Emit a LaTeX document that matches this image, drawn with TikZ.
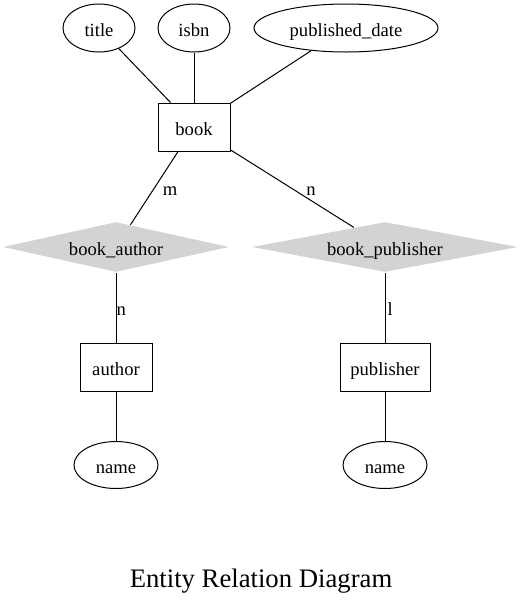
\documentclass[tikz,border=0pt]{standalone}
\usepackage{fontspec}
\setmainfont{Liberation Serif}
\usepackage{tikz}
\usetikzlibrary{shapes.geometric}
\definecolor{relgray}{RGB}{211,211,211}
\tikzstyle{attr} = [draw=black, ellipse, inner sep=0pt, text height=17, text depth=0, minimum width=72, minimum height=48, font={\fontsize{18.6}{22}\selectfont}]
\tikzstyle{entity} = [draw=black, rectangle, inner sep=0pt, text height=17, text depth=0, minimum width=72, minimum height=48, font={\fontsize{18.6}{22}\selectfont}]
\tikzstyle{rel} = [fill=relgray, diamond, aspect=4.5, inner sep=0pt, text height=17, text depth=0, minimum height=50, font={\fontsize{18.6}{22}\selectfont}]
\tikzstyle{card} = [inner sep=0pt, font={\fontsize{18.6}{22}\selectfont}]

\begin{document}
\begin{tikzpicture}[x=1pt,y=-1pt,line width=1pt]
        \useasboundingbox (0,0) rectangle (527,603);
        \node[attr](title) at (99,28){title};
        \node[attr](isbn) at (194,28){isbn};
        \node[attr,minimum width=184](pubdate) at (346,28){published\_date};
        \node[entity](book) at (194,127){book};
        \node[rel,minimum width=226](bookauthor) at (116,247){book\_author};
        \node[rel,minimum width=266](bookpub) at (385,247){book\_publisher};
        \node[entity](author) at (116,367){author};
        \node[entity,minimum width=90](publisher) at (385,367){publisher};
        \node[attr,minimum width=84,minimum height=47](aname) at (116,465){name};
        \node[attr,minimum width=84,minimum height=47](pname) at (385,465){name};
        \node[card,anchor=base](m1) at (170,195){m};
        \node[card,anchor=base](n1) at (311,195){n};
        \node[card,anchor=base west](n2) at (116,315){n};
        \node[card,anchor=base west](l1) at (387,315){l};
        \node[anchor=base,font={\fontsize{26.7}{30}\selectfont}](caption) at (261,587){Entity Relation Diagram};
        \draw(title)--(book);
        \draw(isbn)--(book);
        \draw(pubdate)--(book);
        \draw(book)--(bookauthor);
        \draw(book)--(bookpub);
        \draw(bookauthor)--(author);
        \draw(bookpub)--(publisher);
        \draw(author)--(aname);
        \draw(publisher)--(pname);
      \end{tikzpicture}
\end{document}
